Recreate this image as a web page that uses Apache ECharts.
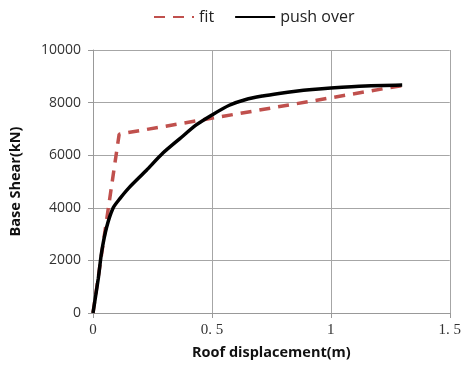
<!DOCTYPE html>
<html><head><meta charset="utf-8">
<script src="https://cdn.jsdelivr.net/npm/echarts@6/dist/echarts.min.js"></script>
<style>html,body{margin:0;padding:0;background:#fff}#c{width:464px;height:369px}</style>
</head><body><div id="c"></div>
<script>
var fitX = [0, 0.11, 1.30];
var fitY = [0, 6800, 8650];
var pushX = [0, 0.022, 0.036, 0.057, 0.085, 0.113, 0.15, 0.224, 0.294, 0.364, 0.434, 0.50, 0.573, 0.643, 0.713, 0.782, 0.852, 0.922, 1.00, 1.145, 1.30];
var pushY = [0, 1300, 2300, 3250, 4000, 4350, 4750, 5420, 6080, 6620, 7150, 7530, 7900, 8120, 8250, 8350, 8435, 8500, 8555, 8630, 8665];
var xTicks = [0, 0.5, 1, 1.5];
var yTicks = [0, 2000, 4000, 6000, 8000, 10000];

function pairs(xs, ys){ return xs.map(function(x,i){return [x, ys[i]];}); }

var chart = echarts.init(document.getElementById('c'), null, {renderer:'canvas'});
chart.setOption({
  animation:false,
  legend:{
    top:4, left:148, itemWidth:40, itemHeight:10, itemGap:20,
    textStyle:{fontFamily:'Open Sans', fontSize:16, color:'#222'},
    itemStyle:{opacity:0},
    data:[{name:'fit'},{name:'push over'}]
  },
  grid:{left:93, right:13, top:50, bottom:56},
  xAxis:{
    type:'value', min:0, max:1.5, interval:0.5,
    name:'Roof displacement(m)', nameLocation:'middle', nameGap:32,
    nameTextStyle:{fontFamily:'Open Sans', fontWeight:'bold', fontSize:14.5, color:'#111'},
    axisLine:{show:true, lineStyle:{color:'#999', width:1}},
    axisTick:{show:true, length:5, lineStyle:{color:'#999'}},
    splitLine:{show:true, lineStyle:{color:'#a6a6a6', width:1}},
    axisLabel:{fontFamily:'Liberation Serif', fontSize:15, color:'#333', margin:10,
      formatter:function(v){ return String(v).replace('.', '. '); }}
  },
  yAxis:{
    type:'value', min:0, max:10000, interval:2000,
    name:'Base Shear(kN)', nameLocation:'middle', nameGap:70, nameRotate:90,
    nameTextStyle:{fontFamily:'Open Sans', fontWeight:'bold', fontSize:14.5, color:'#111'},
    axisLine:{show:true, lineStyle:{color:'#999', width:1}},
    axisTick:{show:true, length:5, lineStyle:{color:'#999'}},
    splitLine:{show:true, lineStyle:{color:'#a6a6a6', width:1}},
    axisLabel:{fontFamily:'Open Sans', fontSize:14, color:'#333', margin:12,
      formatter:function(v){ return String(v); }}
  },
  series:[
    {name:'fit', type:'line', data:pairs(fitX, fitY), showSymbol:false, symbol:'none',
     lineStyle:{color:'#C0504D', width:3.5, type:[11,8]}, itemStyle:{color:'#C0504D'}, z:2},
    {name:'push over', type:'line', data:pairs(pushX, pushY), showSymbol:false, symbol:'none', smooth:0.25,
     lineStyle:{color:'#000', width:3.5}, itemStyle:{color:'#000'}, z:3}
  ]
});
</script></body></html>
